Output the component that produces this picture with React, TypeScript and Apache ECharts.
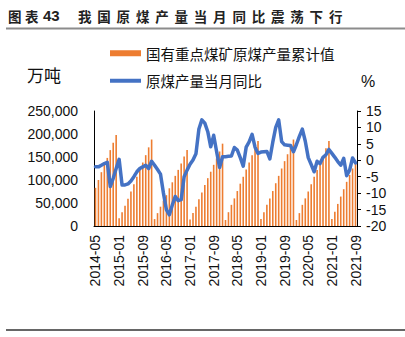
import React, { useEffect, useRef } from "react";
import * as echarts from "echarts";

const months: string[] = (() => {
  const out: string[] = [];
  let y = 2014;
  let m = 5;
  while (y < 2021 || (y === 2021 && m <= 9)) {
    out.push(`${y}-${m < 10 ? "0" + m : m}`);
    m++;
    if (m > 12) {
      m = 1;
      y++;
    }
  }
  return out;
})();

// 国有重点煤矿原煤产量累计值 (万吨)
const output2014 = [83000, 100000, 117000, 134000, 148000, 165000, 181000, 198000];
const output2015 = [17000, 30000, 44000, 59000, 75000, 91000, 107000, 123000, 138000, 154000, 171000, 188000];
const output2016 = [15000, 28000, 42000, 55000, 67000, 82000, 95000, 109000, 122000, 136000, 151000, 165000];
const output2017 = [14000, 28000, 42000, 58000, 73000, 89000, 104000, 118000, 133000, 147000, 162000, 179000];
const output2018 = [13000, 30000, 46000, 60000, 76000, 92000, 107000, 123000, 138000, 154000, 170000, 185000];
const output2019 = [15000, 30000, 46000, 60000, 76000, 93000, 109000, 125000, 141000, 156000, 172000, 188000];
const output2020 = [13000, 28000, 46000, 60000, 75000, 91000, 107000, 122000, 136000, 151000, 169000, 185000];
const output2021 = [15000, 31000, 48000, 64000, 80000, 96000, 111000, 125000, 140000];

// 原煤产量当月同比 (%)
const yoy2014 = [-2, -2, -1.5, -1, -0.6, -8, -5.5, -2.5];
const yoy2015 = [0.3, -7.5, -7.5, -7.2, -6.3, -5, -3.5, -2.5, -2, -1.5, -2.5, -0.3];
const yoy2016 = [-1.5, -2.8, -4.2, -10, -15, -16.6, -13.6, -11, -12.3, -12, -5, -3];
const yoy2017 = [-1.2, 0.1, 2, 9.5, 12.3, 11.3, 8.7, 4.1, 7.6, 2.6, -2.2, 1.1];
const yoy2018 = [1.1, 1.2, 1.3, 3.9, 3.1, 0.8, -1.8, 4, 5.6, 7.9, 4, 2.1];
const yoy2019 = [2.5, 2.6, 2.7, 0.4, 5.5, 10, 12.3, 5.7, 4.7, 4.6, 4.5, 2.6];
const yoy2020 = [4.8, 7.3, 9.5, 5.8, 0.8, -1.3, -3.5, -0.3, -1, 0.9, 1.7, 3.3];
const yoy2021 = [2.1, 0.9, -0.4, -1.5, 0.6, -4.7, -3, 0.7, -0.8];

const barName = "国有重点煤矿原煤产量累计值";
const lineName = "原煤产量当月同比";
const leftTicks = [0, 50000, 100000, 150000, 200000, 250000];
const rightTicks = [-20, -15, -10, -5, 0, 5, 10, 15];

const outputData = [
  ...output2014, ...output2015, ...output2016, ...output2017,
  ...output2018, ...output2019, ...output2020, ...output2021,
];
const yoyData = [
  ...yoy2014, ...yoy2015, ...yoy2016, ...yoy2017,
  ...yoy2018, ...yoy2019, ...yoy2020, ...yoy2021,
];

const titleHead = ["图", "表"];
const titleNum = "43";
const titleText = "我国原煤产量当月同比震荡下行";

const FONT = "'Liberation Sans', Arial, sans-serif";
const CJK = "'Noto Sans CJK SC', sans-serif";

export default function App() {
  const ref = useRef<HTMLDivElement>(null);
  useEffect(() => {
    if (!ref.current) return;
    const chart = echarts.init(ref.current, undefined, { renderer: "svg" });
    const titleGraphics: any[] = [];
    titleHead.forEach((c, i) => {
      titleGraphics.push({
        type: "text",
        left: 8 + i * 17,
        top: 9,
        style: { text: c, fontSize: 13.5, fontWeight: "bold", fontFamily: CJK, fill: "#222" },
      });
    });
    titleGraphics.push({
      type: "text",
      left: 43,
      top: 8,
      style: { text: titleNum, fontSize: 15, fontWeight: "bold", fontFamily: FONT, fill: "#222" },
    });
    titleText.split("").forEach((c, i) => {
      titleGraphics.push({
        type: "text",
        left: 78 + i * 19.3,
        top: 9,
        style: { text: c, fontSize: 13.5, fontWeight: "bold", fontFamily: CJK, fill: "#222" },
      });
    });
    chart.setOption({
      animation: false,
      backgroundColor: "#fff",
      grid: { left: 94, right: 48, top: 111, bottom: 111, containLabel: false },
      graphic: [
        ...titleGraphics,
        { type: "line", shape: { x1: 6, y1: 28.5, x2: 405, y2: 28.5 }, style: { stroke: "#8c8c8c", lineWidth: 2 } },
        { type: "line", shape: { x1: 6, y1: 330, x2: 405, y2: 330 }, style: { stroke: "#333", lineWidth: 1.5 } },
        { type: "text", left: 27, top: 66, style: { text: "万吨", fontSize: 17, fontFamily: CJK, fill: "#111" } },
        { type: "text", left: 361, top: 73, style: { text: "%", fontSize: 16, fontFamily: FONT, fill: "#111" } },
      ],
      legend: [
        {
          data: [{ name: barName, icon: "rect" }],
          left: 110,
          top: 46,
          padding: 0,
          itemWidth: 31,
          itemHeight: 6,
          textStyle: { fontSize: 14.5, fontFamily: CJK, color: "#111" },
          selectedMode: false,
        },
        {
          data: [{ name: lineName, icon: "rect" }],
          left: 110,
          top: 73.5,
          padding: 0,
          itemWidth: 31,
          itemHeight: 4,
          textStyle: { fontSize: 14.5, fontFamily: CJK, color: "#111" },
          selectedMode: false,
        },
      ],
      xAxis: {
        type: "category",
        data: months,
        boundaryGap: true,
        axisLine: { lineStyle: { color: "#000", width: 1 } },
        axisTick: { show: false },
        axisLabel: {
          interval: 7,
          rotate: 90,
          fontSize: 14,
          fontFamily: FONT,
          color: "#111",
          margin: 9,
        },
      },
      yAxis: [
        {
          type: "value",
          min: leftTicks[0],
          max: leftTicks[leftTicks.length - 1],
          interval: 50000,
          axisLine: { show: true, lineStyle: { color: "#000", width: 1 } },
          axisTick: { show: false },
          splitLine: { show: false },
          axisLabel: {
            fontSize: 14,
            fontFamily: FONT,
            color: "#111",
            margin: 16,
            formatter: (v: number) => v.toLocaleString("en-US"),
          },
        },
        {
          type: "value",
          min: rightTicks[0],
          max: rightTicks[rightTicks.length - 1],
          interval: 5,
          position: "right",
          axisLine: { show: true, lineStyle: { color: "#000", width: 1 } },
          axisTick: { show: true, length: 4, lineStyle: { color: "#000" } },
          splitLine: { show: false },
          axisLabel: { fontSize: 14, fontFamily: FONT, color: "#111", margin: 9 },
        },
      ],
      series: [
        {
          name: barName,
          type: "bar",
          data: outputData,
          barWidth: 1.6,
          itemStyle: { color: "#ED7D31" },
          yAxisIndex: 0,
        },
        {
          name: lineName,
          type: "line",
          data: yoyData,
          yAxisIndex: 1,
          symbol: "none",
          lineStyle: { color: "#4472C4", width: 3.5, join: "round", cap: "round" },
          itemStyle: { color: "#4472C4" },
        },
      ],
    });
    return () => chart.dispose();
  }, []);
  return (
    <div
      ref={ref}
      style={{ position: "absolute", left: 0, top: 0, width: 405, height: 337, background: "#fff" }}
    />
  );
}
